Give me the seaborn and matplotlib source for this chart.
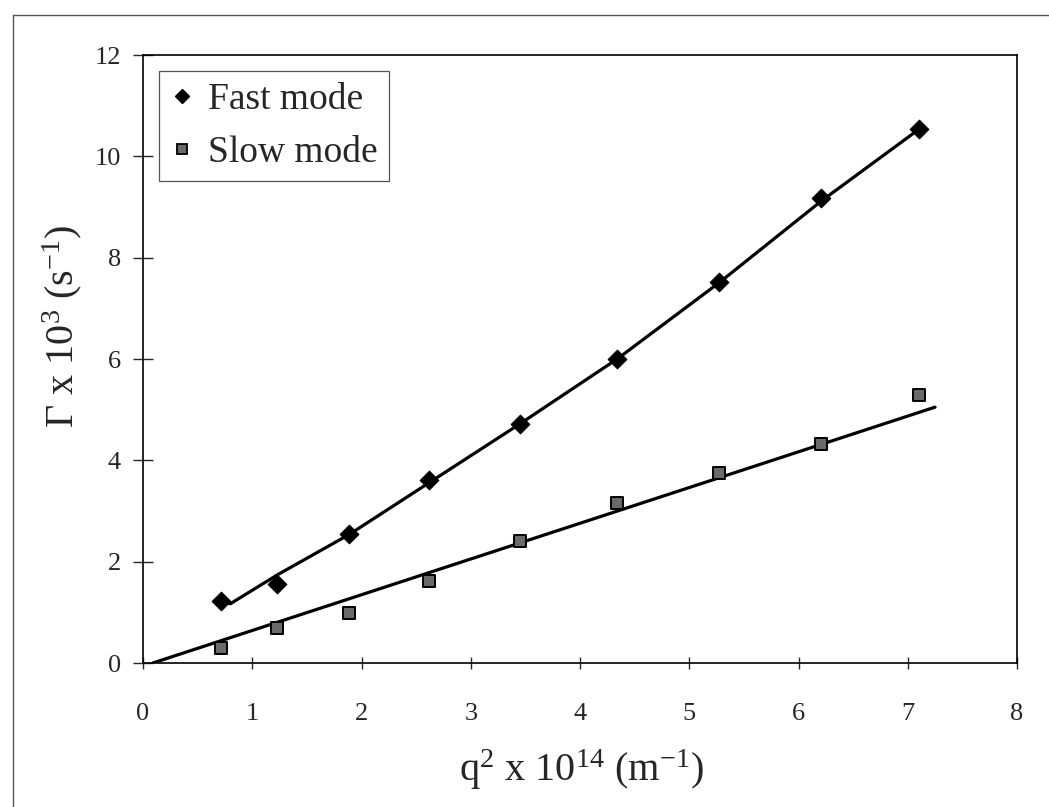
"""Decay rate vs q^2 for the fast and slow relaxation modes."""

import matplotlib

matplotlib.use("Agg")
import matplotlib.pyplot as plt
import pandas as pd
import seaborn as sns
from matplotlib.lines import Line2D

# measured points
q2 = [0.71, 1.23, 1.89, 2.62, 3.45, 4.34, 5.27, 6.21, 7.10]
fast_gamma = [1.22, 1.55, 2.54, 3.62, 4.72, 6.00, 7.52, 9.17, 10.53]
slow_gamma = [0.30, 0.69, 0.99, 1.62, 2.41, 3.16, 3.75, 4.32, 5.28]

# fitted curves as drawn
fast_fit_x = [0.71, 0.80, 1.23, 1.89, 2.62, 3.45, 4.34, 5.27, 6.21, 7.10]
fast_fit_y = [1.22, 1.17, 1.74, 2.54, 3.56, 4.72, 6.00, 7.50, 9.12, 10.53]
slow_fit_x = [0.09, 7.25]
slow_fit_y = [0.00, 5.05]

x_ticks = [0, 1, 2, 3, 4, 5, 6, 7, 8]
y_ticks = [0, 2, 4, 6, 8, 10, 12]

sns.set_style("ticks")
plt.rcParams["font.family"] = ["Liberation Serif", "DejaVu Serif"]
plt.rcParams["mathtext.fontset"] = "custom"
plt.rcParams["mathtext.rm"] = "Liberation Serif"
plt.rcParams["mathtext.it"] = "Liberation Serif:italic"

points = pd.DataFrame({"q2": q2, "fast": fast_gamma, "slow": slow_gamma})
fast_fit = pd.DataFrame({"x": fast_fit_x, "y": fast_fit_y})
slow_fit = pd.DataFrame({"x": slow_fit_x, "y": slow_fit_y})

fig = plt.figure(figsize=(10.49, 8.07), dpi=100)
ax = fig.add_axes([143 / 1049, 1 - 663 / 807, 874 / 1049, 608 / 807])

sns.lineplot(data=fast_fit, x="x", y="y", color="black", linewidth=2.3, ax=ax,
             sort=False, legend=False)
sns.lineplot(data=slow_fit, x="x", y="y", color="black", linewidth=2.3, ax=ax,
             sort=False, legend=False)
sns.scatterplot(data=points, x="q2", y="fast", marker="D", s=90, color="black",
                edgecolor="black", linewidth=0.8, ax=ax, zorder=3)
sns.scatterplot(data=points, x="q2", y="slow", marker="s", s=70, color="#6a6a6a",
                edgecolor="black", linewidth=1.4, ax=ax, zorder=3)

ax.set_xlim(0, 8)
ax.set_ylim(0, 12)
ax.set_xticks(x_ticks)
ax.set_yticks(y_ticks)
ax.tick_params(axis="y", direction="inout", length=14, width=1, pad=9, labelsize=19)
ax.tick_params(axis="x", direction="inout", length=9, width=1, pad=24, labelsize=19)
for spine in ax.spines.values():
    spine.set_visible(True)
    spine.set_color("black")
    spine.set_linewidth(1.2)

ax.set_xlabel(r"q$^{2}$ x 10$^{14}$ (m$^{-1}$)", fontsize=29, va="center", ha="center")
ax.set_ylabel(r"Γ x 10$^{3}$ (s$^{-1}$)", fontsize=29, va="center", ha="center")
ax.xaxis.set_label_coords(0.502, -0.176)
ax.yaxis.set_label_coords(-0.093, 0.553)

handles = [
    Line2D([], [], marker="D", linestyle="none", markersize=7, color="black"),
    Line2D([], [], marker="s", linestyle="none", markersize=6.5,
           markerfacecolor="#6a6a6a", markeredgecolor="black", markeredgewidth=1.3),
]
leg = ax.legend(handles, ["Fast mode", "Slow mode"], loc="upper left",
                bbox_to_anchor=(16 / 874, 1 - 16 / 608), borderaxespad=0,
                fontsize=27, frameon=True, fancybox=False, framealpha=1,
                edgecolor="#555555", handlelength=0.6, handletextpad=0.4,
                borderpad=0.3, labelspacing=0.5)
leg.get_frame().set_linewidth(0.9)

# thin outer frame of the scanned page
fig.add_artist(Line2D([13 / 1049, 13 / 1049], [0, 1 - 15 / 807],
                      transform=fig.transFigure, color="#555555", linewidth=1))
fig.add_artist(Line2D([13 / 1049, 1], [1 - 15 / 807, 1 - 15 / 807],
                      transform=fig.transFigure, color="#555555", linewidth=1))

fig.savefig("out.png", dpi=100)
plt.close(fig)
